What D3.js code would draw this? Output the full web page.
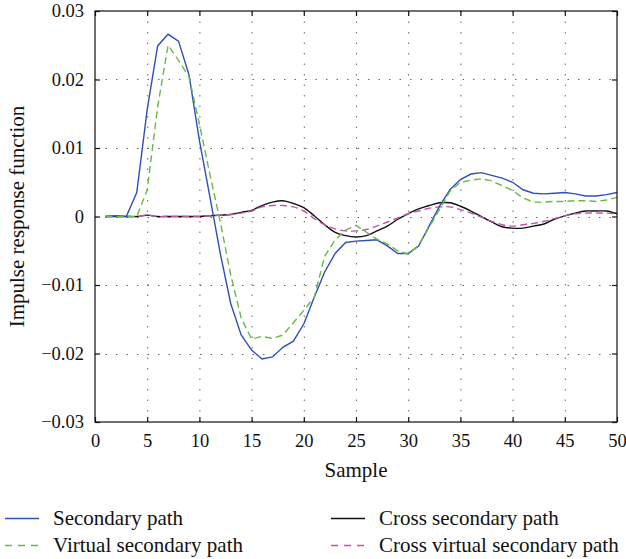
<!DOCTYPE html>
<html><head><meta charset="utf-8">
<script src="https://cdn.jsdelivr.net/npm/d3@7"></script>
<style>body{margin:0;background:#fff}svg text{font-family:"Liberation Serif","Times New Roman",serif;fill:#111}</style>
</head><body><svg id="c" width="626" height="559"></svg>
<script>
const samples = d3.range(1, 51);
const secondary = [0,0.0001,0,0.0035,0.0156,0.0249,0.0266,0.0256,0.0207,0.0111,
 0.0029,-0.0054,-0.0127,-0.0173,-0.0195,-0.0208,-0.0205,-0.0191,-0.0182,-0.0157,
 -0.0118,-0.0081,-0.0054,-0.0038,-0.0036,-0.0035,-0.0034,-0.0043,-0.0054,-0.0054,
 -0.0043,-0.0014,0.0015,0.0039,0.0054,0.0062,0.0064,0.006,0.0056,0.005,
 0.0039,0.0034,0.0033,0.0034,0.0035,0.0033,0.003,0.003,0.0032,0.0035];
const virtualSecondary = [0,0,0,0,0.0039,0.016,0.025,0.0228,0.0204,0.0135,
 0.0062,-0.0008,-0.0085,-0.0148,-0.0179,-0.0175,-0.0178,-0.0173,-0.0155,-0.0137,
 -0.0118,-0.0058,-0.0034,-0.002,-0.0013,-0.0023,-0.0033,-0.004,-0.005,-0.0055,
 -0.0042,-0.0016,0.001,0.0037,0.005,0.0053,0.0055,0.0052,0.0045,0.0038,
 0.0027,0.0021,0.0021,0.0022,0.0022,0.0023,0.0023,0.0022,0.0024,0.0028];
const crossSecondary = [0,0,0,0,0.0002,0,0,0,0,0,
 0.0001,0.0002,0.0003,0.0006,0.0009,0.0016,0.0021,0.0023,0.0019,0.0013,
 0.0001,-0.0012,-0.0023,-0.0028,-0.003,-0.0028,-0.0021,-0.0014,-0.0004,0.0004,
 0.0011,0.0016,0.002,0.002,0.0015,0.0008,0,-0.0008,-0.0015,-0.0017,
 -0.0017,-0.0014,-0.0011,-0.0004,0.0001,0.0005,0.0008,0.0008,0.0008,0.0004];
const crossVirtual = [0,0,0,0,0.0002,0,0,0,0,0,
 0.0001,0.0002,0.0003,0.0005,0.0008,0.0014,0.0016,0.0016,0.0014,0.0008,
 -0.0003,-0.0012,-0.0018,-0.0021,-0.0021,-0.0019,-0.0014,-0.0008,-0.0002,0.0004,
 0.0008,0.0012,0.0014,0.0014,0.001,0.0005,-0.0001,-0.0007,-0.0012,-0.0014,
 -0.0012,-0.001,-0.0007,-0.0003,0.0001,0.0004,0.0005,0.0005,0.0005,0.0004];
const xTicks = [0,5,10,15,20,25,30,35,40,45,50];
const yTicks = [-0.03,-0.02,-0.01,0,0.01,0.02,0.03];
const yTickLabels = ["\u22120.03","\u22120.02","\u22120.01","0","0.01","0.02","0.03"];
const seriesNames = ["Secondary path","Virtual secondary path","Cross secondary path","Cross virtual secondary path"];
const seriesColors = ["#3050b8","#66bb44","#111111","#c055b0"];

const svg = d3.select("#c");
const L=95, R=617, T=11, B=422;
const x = d3.scaleLinear().domain([0,50]).range([L,R]);
const y = d3.scaleLinear().domain([-0.03,0.03]).range([B,T]);

// grid
const g = svg.append("g");
g.selectAll(".vg").data(xTicks.slice(1,-1)).join("line")
  .attr("x1",d=>x(d)+0.5).attr("x2",d=>x(d)+0.5).attr("y1",T).attr("y2",B)
  .attr("stroke","#666").attr("stroke-width",1).attr("stroke-dasharray","1.5,9");
g.selectAll(".hg").data(yTicks.slice(1,-1)).join("line")
  .attr("y1",d=>Math.round(y(d))+0.5).attr("y2",d=>Math.round(y(d))+0.5).attr("x1",L).attr("x2",R)
  .attr("stroke","#666").attr("stroke-width",1).attr("stroke-dasharray","1.5,9");

// series
const series = [
  {vals: secondary, color: seriesColors[0], dash: null, curve: d3.curveLinear},
  {vals: virtualSecondary, color: seriesColors[1], dash: "7,4", curve: d3.curveLinear},
  {vals: crossSecondary, color: seriesColors[2], dash: null, curve: d3.curveCatmullRom},
  {vals: crossVirtual, color: seriesColors[3], dash: "7,4", curve: d3.curveCatmullRom}
];
[2,3,0,1].forEach(i=>{
  const s = series[i];
  const line = d3.line().x((d,j)=>x(samples[j])).y(d=>y(d)).curve(s.curve);
  svg.append("path").attr("d", line(s.vals)).attr("fill","none")
    .attr("stroke", s.color).attr("stroke-width",1.4)
    .attr("stroke-dasharray", s.dash);
});

// axes: frame + inward ticks
const ax = svg.append("g").attr("stroke","#111").attr("stroke-width",1.2);
ax.append("rect").attr("x",L).attr("y",T).attr("width",R-L).attr("height",B-T).attr("fill","none");
const axB = d3.axisBottom(x).tickValues(xTicks).tickSizeInner(-5).tickSizeOuter(0).tickPadding(12).tickFormat(d3.format("d"));
const gb = svg.append("g").attr("transform",`translate(0,${B})`).call(axB);
const axT = d3.axisTop(x).tickValues(xTicks).tickSizeInner(-5).tickSizeOuter(0).tickFormat("");
const gt = svg.append("g").attr("transform",`translate(0,${T})`).call(axT);
const axL = d3.axisLeft(y).tickValues(yTicks).tickSizeInner(-5).tickSizeOuter(0).tickPadding(11)
  .tickFormat((d,i)=>yTickLabels[i]);
const gl = svg.append("g").attr("transform",`translate(${L},0)`).call(axL);
const axR = d3.axisRight(y).tickValues(yTicks).tickSizeInner(-5).tickSizeOuter(0).tickFormat("");
const gr = svg.append("g").attr("transform",`translate(${R},0)`).call(axR);
[gb,gt,gl,gr].forEach(a=>{
  a.select(".domain").remove();
  a.selectAll("line").attr("stroke","#111").attr("stroke-width",1.2);
  a.selectAll("text").attr("font-family",'"Liberation Serif",serif').attr("font-size",18.5).attr("fill","#111");
});

svg.append("text").attr("x",x(25)).attr("y",477).attr("text-anchor","middle").attr("font-size",21).text("Sample");
svg.append("text").attr("transform",`translate(23.5,${(T+B)/2}) rotate(-90)`).attr("text-anchor","middle")
  .attr("font-size",21).text("Impulse response function");

// legend
const legPos = [[5,518.5],[5,545.5],[331,518.5],[331,545.5]];
seriesNames.forEach((n,i)=>{
  const [lx,ly] = legPos[i];
  svg.append("line").attr("x1",lx).attr("x2",lx+34).attr("y1",ly).attr("y2",ly)
    .attr("stroke",seriesColors[i]).attr("stroke-width",1.4)
    .attr("stroke-dasharray", series[i].dash ? "7,6" : null);
  svg.append("text").attr("x",lx+48).attr("y",ly+6).attr("font-size",21).text(n);
});
</script></body></html>
